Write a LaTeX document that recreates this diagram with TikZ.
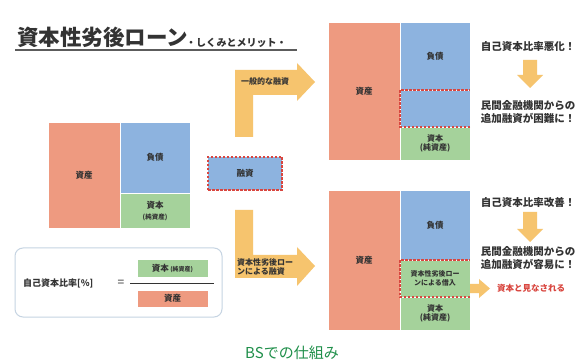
\documentclass[tikz,border=0pt]{standalone}
\usepackage{fontspec}
\setmainfont{Noto Sans CJK JP}
\usetikzlibrary{positioning}
\definecolor{asset}{HTML}{EE9A80}
\definecolor{debt}{HTML}{8DB3DF}
\definecolor{equity}{HTML}{A5D29B}
\definecolor{arrowc}{HTML}{F6C46E}
\definecolor{redd}{HTML}{D9463F}
\definecolor{txt}{HTML}{333333}
\definecolor{capg}{HTML}{1F8F4A}
\definecolor{frame}{HTML}{C6D4E2}
\tikzset{
  box/.style={draw=white, line width=0.4pt, inner sep=0pt, outer sep=0pt, anchor=north west},
  lbl/.style={text=txt, font=\fontsize{8.5}{9}\selectfont\bfseries, align=center, inner sep=0pt},
  sml/.style={text=txt, font=\fontsize{6.5}{7}\selectfont\bfseries, inner sep=0pt},
  rtxt/.style={text=txt, font=\fontsize{10.5}{12.5}\selectfont\bfseries, align=center, inner sep=0pt},
  dashbox/.style={draw=redd, dashed, line width=1.3pt, dash pattern=on 2.5pt off 1.5pt},
  fatarrow/.style={fill=arrowc, draw=none},
}
\newcommand\bx[7]{\node[box,#6,minimum width={(#4-#2)*1pt},minimum height={(#5-#3)*1pt}] (#1) at (#2,#3) {};}
\begin{document}
\begin{tikzpicture}[x=1pt,y=-1pt]
\useasboundingbox (0,0) rectangle (578,363);
\fill[white] (0,0) rectangle (578,363);
% title
\node[anchor=base west, inner sep=0pt, text=txt, font=\fontsize{21.5}{23}\selectfont\bfseries] (title) at (17,46) {資本性劣後ローン};
\node[anchor=base west, inner sep=0pt, text=txt, font=\fontsize{10}{11}\selectfont\bfseries] (sub) at (186,47) {・しくみとメリット・};
\coordinate (ulA) at (15,50);
\coordinate (ulB) at (297,50);
\draw[txt!80, line width=1.2pt] (ulA) -- (ulB);
% left BS
\bx{LA}{48}{122}{120}{228}{fill=asset}{}
\bx{LD}{120}{122}{190}{193}{fill=debt}{}
\bx{LE}{120}{193}{190}{228}{fill=equity}{}
\node[lbl] (LAt) at (LA.center) {資産};
\node[lbl] (LDt) at (LD.center) {負債};
\node[lbl] (LEt) at ([yshift=5pt]LE.center) {資本};
\node[sml] (LEs) at ([yshift=-7pt]LE.center) {(純資産)};
% formula box
\node[box, draw=frame, line width=1pt, rounded corners=8pt, minimum width=207pt, minimum height=69pt] (FB) at (15,248) {};
\node[text=txt, font=\fontsize{9}{10}\selectfont\bfseries, anchor=west, inner sep=0pt] (FT) at (23,283) {自己資本比率[\%]};
\node[text=txt, font=\fontsize{12}{12}\selectfont, inner sep=0pt] (EQ) at (121,283) {=};
\bx{FG}{137}{259}{208}{277}{fill=equity}{}
\bx{FR}{137}{290}{208}{307}{fill=asset}{}
\node[text=txt, inner sep=0pt] (FGt) at (FG.center) {\fontsize{8.5}{9}\selectfont\bfseries 資本\,\fontsize{6}{7}\selectfont(純資産)};
\node[lbl] (FRt) at (FR.center) {資産};
\coordinate (fl1) at (130,283);
\coordinate (fl2) at (214,283);
\draw[txt, line width=0.8pt] (fl1) -- (fl2);
% loan box
\node[box, fill=debt, dashbox, minimum width=74pt, minimum height=33pt] (LN) at (208,157) {};
\node[lbl] (LNt) at (LN.center) {融資};
% upper L arrow
\fill[fatarrow] (235,137) -- (235,70) -- (297,70) -- (297,63) -- (315,82) -- (297,101) -- (297,95) -- (253,95) -- (253,137) -- cycle;
\node[text=txt, font=\fontsize{8}{9}\selectfont\bfseries, inner sep=0pt] (UAt) at (265,81) {一般的な融資};
% lower L arrow
\fill[fatarrow] (235,210) -- (253,210) -- (253,255) -- (297,255) -- (297,247) -- (315,266) -- (297,286) -- (297,278) -- (235,278) -- cycle;
\node[text=txt, font=\fontsize{8}{9}\selectfont\bfseries, inner sep=0pt, align=left, anchor=west] (LAl) at (237,267) {資本性劣後ロー\\ンによる融資};
% upper right BS
\bx{UA}{328}{22}{400}{160}{fill=asset}{}
\bx{UD}{400}{22}{470}{90}{fill=debt}{}
\bx{UL}{400}{90}{470}{127}{fill=debt}{}
\bx{UE}{400}{127}{470}{160}{fill=equity}{}
\draw[dashbox] (UL.south east) -- (UL.south west) -- (UL.north west) -- (UL.north east);
\node[lbl] (UAt2) at (UA.center) {資産};
\node[lbl] (UDt) at (UD.center) {負債};
\node[lbl, font=\fontsize{8}{9.5}\selectfont\bfseries] (UEt) at (UE.center) {資本\\(純資産)};
% lower right BS
\bx{DA}{328}{190}{400}{330}{fill=asset}{}
\bx{DD}{400}{190}{470}{260}{fill=debt}{}
\bx{DL}{400}{260}{470}{297}{fill=equity}{}
\bx{DE}{400}{297}{470}{330}{fill=equity}{}
\draw[dashbox] (DL.south east) -- (DL.south west) -- (DL.north west) -- (DL.north east);
\node[lbl] (DAt) at (DA.center) {資産};
\node[lbl] (DDt) at (DD.center) {負債};
\node[lbl, font=\fontsize{7}{9}\selectfont\bfseries] (DLt) at (DL.center) {資本性劣後ロー\\ンによる借入};
\node[lbl, font=\fontsize{8}{9.5}\selectfont\bfseries] (DEt) at (DE.center) {資本\\(純資産)};
% right texts upper
\node[rtxt] (R1) at (528,47) {自己資本比率悪化！};
\fill[fatarrow] (523,60) -- (537,60) -- (537,75) -- (543,75) -- (530,88) -- (517,75) -- (523,75) -- cycle;
\node[rtxt] (R2) at (528,112) {民間金融機関からの\\追加融資が困難に！};
% right texts lower
\node[rtxt] (R3) at (528,203) {自己資本比率改善！};
\fill[fatarrow] (523,212) -- (537,212) -- (537,229) -- (543,229) -- (530,242) -- (517,229) -- (523,229) -- cycle;
\node[rtxt] (R4) at (528,258) {民間金融機関からの\\追加融資が容易に！};
\fill[fatarrow] (470,284) -- (479,284) -- (479,279) -- (490,288.5) -- (479,298) -- (479,293) -- (470,293) -- cycle;
\node[text=redd, font=\fontsize{8.5}{9}\selectfont\bfseries, anchor=west, inner sep=0pt] (R5) at (497,288) {資本と見なされる};
% caption
\node[text=capg, font=\fontsize{15}{16}\selectfont, inner sep=0pt] (CAP) at (292,353) {BSでの仕組み};
\end{tikzpicture}
\end{document}
